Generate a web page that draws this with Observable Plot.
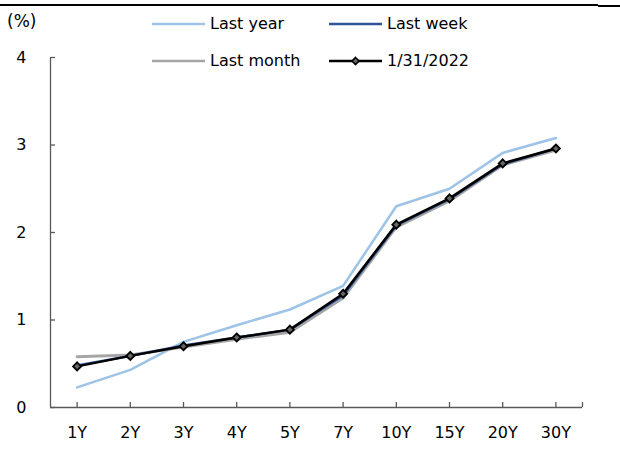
<!DOCTYPE html>
<html>
<head>
<meta charset="utf-8">
<script src="https://cdn.jsdelivr.net/npm/d3@7"></script>
<script src="https://cdn.jsdelivr.net/npm/@observablehq/plot@0.6"></script>
<style>
  body { margin: 0; background: #fff; font-family: "DejaVu Sans", sans-serif; }
  #wrap { position: relative; width: 620px; height: 450px; overflow: hidden; }
  .topline1 { position: absolute; left: 0; top: 4px; width: 598px; height: 2px; background: #000; }
  .topline2 { position: absolute; left: 598px; top: 5px; width: 22px; height: 2px; background: #000; }
  .lab { position: absolute; font-size: 16px; line-height: 18px; color: #000; white-space: nowrap; }
  .key { position: absolute; }
</style>
</head>
<body>
<div id="wrap">
  <div class="topline1"></div>
  <div class="topline2"></div>
  <div id="chart"></div>
  <div id="legend"></div>
</div>
<script>
const tenors = ["1Y", "2Y", "3Y", "4Y", "5Y", "7Y", "10Y", "15Y", "20Y", "30Y"];
const lastYear  = [0.23, 0.43, 0.75, 0.94, 1.12, 1.39, 2.30, 2.50, 2.91, 3.08];
const lastMonth = [0.58, 0.60, 0.69, 0.78, 0.86, 1.25, 2.06, 2.36, 2.77, 2.94];
const lastWeek  = [0.48, 0.59, 0.71, 0.80, 0.89, 1.28, 2.08, 2.38, 2.78, 2.96];
const current   = [0.47, 0.59, 0.70, 0.80, 0.89, 1.30, 2.09, 2.39, 2.79, 2.96];
const yTicks = [0, 1, 2, 3, 4];
const seriesNames = ["Last year", "Last week", "Last month", "1/31/2022"];
const seriesColors = ["#9DC3E6", "#2F5597", "#A6A6A6", "#000000"];

const idx = tenors.map((_, i) => i);
const rows = (vals) => vals.map((v, i) => ({i, v}));
const axisColor = "#595959";
const font = "DejaVu Sans, sans-serif";

const chart = Plot.plot({
  width: 620,
  height: 450,
  marginLeft: 50,
  marginRight: 38,
  marginTop: 57,
  marginBottom: 43,
  style: {fontFamily: font, fontSize: "16px", background: "transparent", overflow: "visible"},
  x: {domain: [-0.5, tenors.length - 0.5], axis: null},
  y: {domain: [0, 4], axis: null},
  marks: [
    Plot.ruleX([-0.5], {y1: 0, y2: 4, stroke: axisColor, strokeWidth: 1.3}),
    Plot.ruleY([0], {x1: -0.5, x2: tenors.length - 0.5, stroke: axisColor, strokeWidth: 1.3}),
    Plot.ruleX([...idx, tenors.length - 0.5], {x: d => d, y1: 0, y2: 0, insetBottom: 5, stroke: axisColor, strokeWidth: 1.3}),
    Plot.ruleY(yTicks, {y: d => d, x1: -0.5, x2: -0.5, insetLeft: 5, stroke: axisColor, strokeWidth: 1.3}),
    Plot.text(idx, {x: d => d, y: 0, text: d => tenors[d], dy: 25, fill: "#000", fontSize: 16}),
    Plot.text(yTicks, {x: -0.5, y: d => d, text: d => String(d), dx: -24, textAnchor: "end", fill: "#000", fontSize: 16}),
    Plot.line(rows(lastYear), {x: "i", y: "v", stroke: seriesColors[0], strokeWidth: 2.5}),
    Plot.line(rows(lastMonth), {x: "i", y: "v", stroke: seriesColors[2], strokeWidth: 2.8}),
    Plot.line(rows(lastWeek), {x: "i", y: "v", stroke: seriesColors[1], strokeWidth: 2.5}),
    Plot.line(rows(current), {x: "i", y: "v", stroke: seriesColors[3], strokeWidth: 2.5}),
    Plot.dot(rows(current), {x: "i", y: "v", symbol: "diamond2", r: 3.6, fill: "#666666", stroke: "#000", strokeWidth: 1.8})
  ]
});
document.getElementById("chart").appendChild(chart);

const legend = document.getElementById("legend");
function addLabel(text, left, cy, size) {
  const d = document.createElement("div");
  d.className = "lab";
  d.textContent = text;
  d.style.left = left + "px";
  d.style.top = (cy - 9) + "px";
  if (size) d.style.fontSize = size + "px";
  legend.appendChild(d);
}
function addKey(color, left, cy, marker) {
  const ns = "http://www.w3.org/2000/svg";
  const s = document.createElementNS(ns, "svg");
  s.setAttribute("class", "key");
  s.setAttribute("width", 56);
  s.setAttribute("height", 14);
  s.style.left = left + "px";
  s.style.top = (cy - 7) + "px";
  const l = document.createElementNS(ns, "line");
  l.setAttribute("x1", 0); l.setAttribute("x2", 53);
  l.setAttribute("y1", 7); l.setAttribute("y2", 7);
  l.setAttribute("stroke", color); l.setAttribute("stroke-width", 2.5);
  s.appendChild(l);
  if (marker) {
    const p = document.createElementNS(ns, "path");
    p.setAttribute("d", "M26.5,3.5 L30,7 L26.5,10.5 L23,7 Z");
    p.setAttribute("fill", "#666666");
    p.setAttribute("stroke", "#000");
    p.setAttribute("stroke-width", 1.6);
    s.appendChild(p);
  }
  legend.appendChild(s);
}
addLabel("(%)", 7, 21, 17);
const legPos = [[152, 24], [329, 24], [152, 61], [329, 61]];
seriesNames.forEach((name, k) => {
  const [x, cy] = legPos[k];
  addKey(seriesColors[k], x, cy, k === 3);
  addLabel(name, x + 58, cy);
});
</script>
</body>
</html>
